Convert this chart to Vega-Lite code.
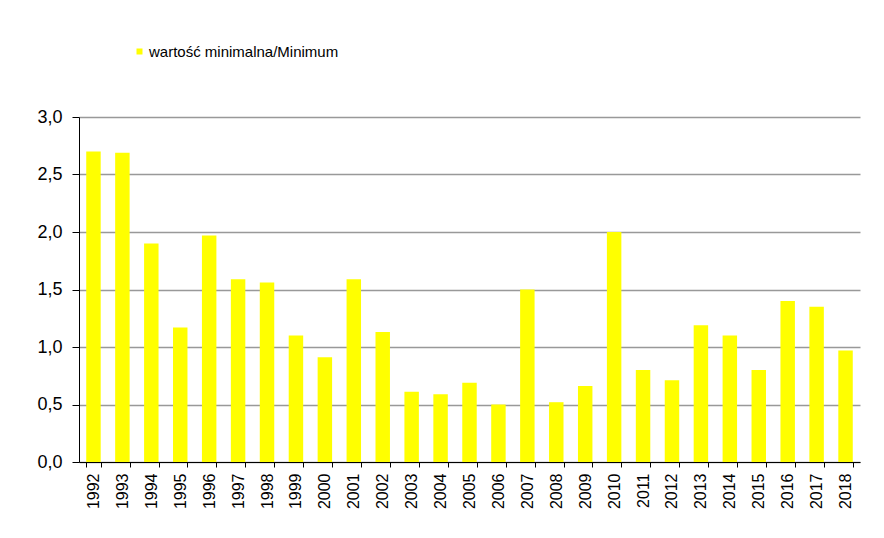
{
  "$schema": "https://vega.github.io/schema/vega-lite/v6.json",
  "autosize": "none",
  "width": 781,
  "height": 345,
  "padding": {"left": 79, "top": 117, "right": 24, "bottom": 76},
  "background": "white",
  "config": {
    "font": "Liberation Sans",
    "view": {"stroke": null}
  },
  "data": {
    "values": [
      {"year": "1992", "value": 2.70},
      {"year": "1993", "value": 2.69},
      {"year": "1994", "value": 1.90},
      {"year": "1995", "value": 1.17},
      {"year": "1996", "value": 1.97},
      {"year": "1997", "value": 1.59},
      {"year": "1998", "value": 1.56},
      {"year": "1999", "value": 1.10},
      {"year": "2000", "value": 0.91},
      {"year": "2001", "value": 1.59},
      {"year": "2002", "value": 1.13},
      {"year": "2003", "value": 0.61},
      {"year": "2004", "value": 0.59},
      {"year": "2005", "value": 0.69},
      {"year": "2006", "value": 0.50},
      {"year": "2007", "value": 1.50},
      {"year": "2008", "value": 0.52},
      {"year": "2009", "value": 0.66},
      {"year": "2010", "value": 2.00},
      {"year": "2011", "value": 0.80},
      {"year": "2012", "value": 0.71},
      {"year": "2013", "value": 1.19},
      {"year": "2014", "value": 1.10},
      {"year": "2015", "value": 0.80},
      {"year": "2016", "value": 1.40},
      {"year": "2017", "value": 1.35},
      {"year": "2018", "value": 0.97}
    ]
  },
  "mark": {"type": "bar"},
  "encoding": {
    "x": {
      "field": "year",
      "type": "ordinal",
      "scale": {"paddingInner": 0.5, "paddingOuter": 0.25},
      "axis": {
        "title": null,
        "labelAngle": -90,
        "labelAlign": "right",
        "labelBaseline": "middle",
        "labelFontSize": 16,
        "labelColor": "#000",
        "labelPadding": 6,
        "tickSize": 5,
        "tickBand": "extent",
        "tickColor": "#000",
        "domainColor": "#000",
        "grid": false
      }
    },
    "y": {
      "field": "value",
      "type": "quantitative",
      "scale": {"domain": [0, 3], "nice": false},
      "axis": {
        "title": null,
        "values": [0, 0.5, 1, 1.5, 2, 2.5, 3],
        "labelExpr": "replace(format(datum.value, '.1f'), '.', ',')",
        "labelFontSize": 18,
        "labelColor": "#000",
        "labelPadding": 10,
        "tickSize": 7,
        "tickColor": "#000",
        "domainColor": "#000",
        "gridColor": "#999999",
        "gridWidth": 1.5,
        "gridOpacity": 1
      }
    },
    "color": {
      "datum": "wartość minimalna/Minimum",
      "type": "nominal",
      "scale": {"range": ["#ffff00"]},
      "legend": {
        "title": null,
        "orient": "none",
        "legendX": 53,
        "legendY": -73,
        "symbolType": "square",
        "symbolSize": 36,
        "symbolStrokeWidth": 0,
        "labelFontSize": 15,
        "labelLimit": 500,
        "labelColor": "#000",
        "labelOffset": 2
      }
    }
  }
}
